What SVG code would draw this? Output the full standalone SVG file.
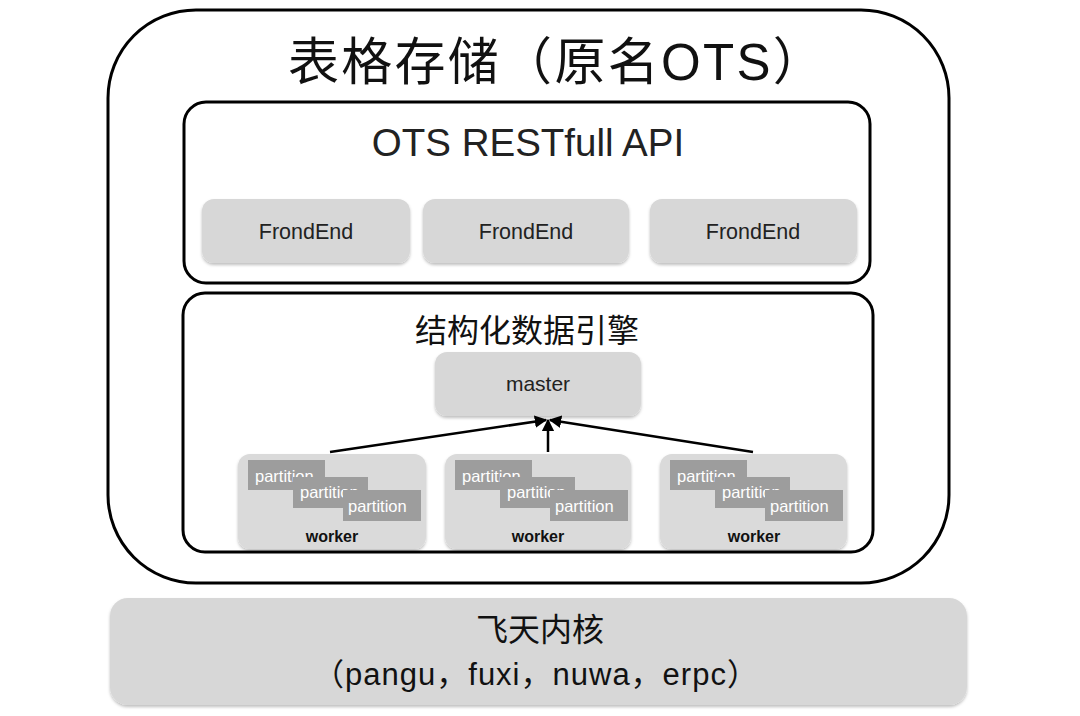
<svg xmlns="http://www.w3.org/2000/svg" width="1080" height="716" viewBox="0 0 1080 716">
<defs>
<style>
.frame{fill:#fff;stroke:#000;stroke-width:3}
.gbox{fill:#d7d7d7;filter:url(#sh)}
.wbox{fill:#dadada;filter:url(#sh)}
.pbox{fill:#9d9d9d}
.cjk{font-family:"Liberation Sans","Noto Sans CJK SC",sans-serif;fill:#111}
.lat{font-family:"Liberation Sans","Noto Sans",sans-serif;fill:#222}
.ptxt{font-family:"Liberation Sans",sans-serif;font-size:16.5px;fill:#fff}
.wtxt{font-family:"Liberation Sans",sans-serif;font-size:16px;font-weight:bold;fill:#111;text-anchor:middle}
.conn{stroke:#000;stroke-width:2.5;fill:none;marker-end:url(#ah)}
</style>
<filter id="sh" x="-10%" y="-10%" width="120%" height="130%">
<feDropShadow dx="0" dy="2" stdDeviation="1.5" flood-color="#000" flood-opacity="0.25"/>
</filter>
<marker id="ah" viewBox="0 0 10 10" refX="9" refY="5" markerWidth="5" markerHeight="5" orient="auto" markerUnits="strokeWidth">
<path d="M0,0 L10,5 L0,10 z" fill="#000"/>
</marker>
</defs>

<g id="ots">
<rect class="frame" x="108" y="10" width="841" height="573" rx="88" ry="88"/>
<text class="cjk" x="557" y="80" font-size="51" letter-spacing="2.3" text-anchor="middle">表格存储（原名OTS）</text>
</g>

<g id="api">
<rect class="frame" x="184" y="102" width="686" height="181" rx="22" ry="22"/>
<text class="lat" x="528" y="156" font-size="38.5" text-anchor="middle" fill="#111">OTS RESTfull API</text>
</g>

<g id="frontend1">
<rect class="gbox" x="202" y="199" width="208" height="64" rx="12"/>
<text class="lat" x="306" y="239" font-size="21.5" text-anchor="middle">FrondEnd</text>
</g>
<g id="frontend2">
<rect class="gbox" x="423" y="199" width="206" height="64" rx="12"/>
<text class="lat" x="526" y="239" font-size="21.5" text-anchor="middle">FrondEnd</text>
</g>
<g id="frontend3">
<rect class="gbox" x="650" y="199" width="207" height="64" rx="12"/>
<text class="lat" x="753" y="239" font-size="21.5" text-anchor="middle">FrondEnd</text>
</g>

<g id="engine">
<rect class="frame" x="183" y="293" width="690" height="259" rx="22" ry="22"/>
<text class="cjk" x="527" y="342" font-size="32" text-anchor="middle">结构化数据引擎</text>
</g>

<g id="master">
<rect class="gbox" x="435" y="352" width="206" height="64" rx="12"/>
<text class="lat" x="538" y="391" font-size="21" text-anchor="middle">master</text>
</g>

<g id="worker1">
<rect class="wbox" x="238" y="454" width="188" height="95" rx="12"/>
<rect class="pbox" x="248" y="460" width="77" height="30"/>
<text class="ptxt" x="255" y="482">partition</text>
<rect class="pbox" x="293" y="477" width="75" height="31"/>
<text class="ptxt" x="300" y="498">partition</text>
<rect class="pbox" x="343" y="490" width="78" height="31"/>
<text class="ptxt" x="348" y="512">partition</text>
<text class="wtxt" x="332" y="542">worker</text>
</g>
<g id="worker2">
<rect class="wbox" x="445" y="454" width="186" height="95" rx="12"/>
<rect class="pbox" x="455" y="460" width="77" height="30"/>
<text class="ptxt" x="462" y="482">partition</text>
<rect class="pbox" x="500" y="477" width="75" height="31"/>
<text class="ptxt" x="507" y="498">partition</text>
<rect class="pbox" x="550" y="490" width="78" height="31"/>
<text class="ptxt" x="555" y="512">partition</text>
<text class="wtxt" x="538" y="542">worker</text>
</g>
<g id="worker3">
<rect class="wbox" x="660" y="454" width="187" height="95" rx="12"/>
<rect class="pbox" x="670" y="460" width="77" height="30"/>
<text class="ptxt" x="677" y="482">partition</text>
<rect class="pbox" x="715" y="477" width="75" height="31"/>
<text class="ptxt" x="722" y="498">partition</text>
<rect class="pbox" x="765" y="490" width="78" height="31"/>
<text class="ptxt" x="770" y="512">partition</text>
<text class="wtxt" x="754" y="542">worker</text>
</g>

<g id="connectors">
<line class="conn" x1="330" y1="452" x2="546" y2="420"/>
<line class="conn" x1="548" y1="452" x2="548" y2="420"/>
<line class="conn" x1="753" y1="452" x2="550" y2="420"/>
</g>

<g id="kernel">
<rect class="gbox" x="110" y="598" width="857" height="107" rx="18"/>
<text class="cjk" x="540" y="641" font-size="32" text-anchor="middle">飞天内核</text>
<text class="cjk" x="536" y="685" font-size="31" letter-spacing="1" text-anchor="middle">（pangu，fuxi，nuwa，erpc）</text>
</g>
</svg>
